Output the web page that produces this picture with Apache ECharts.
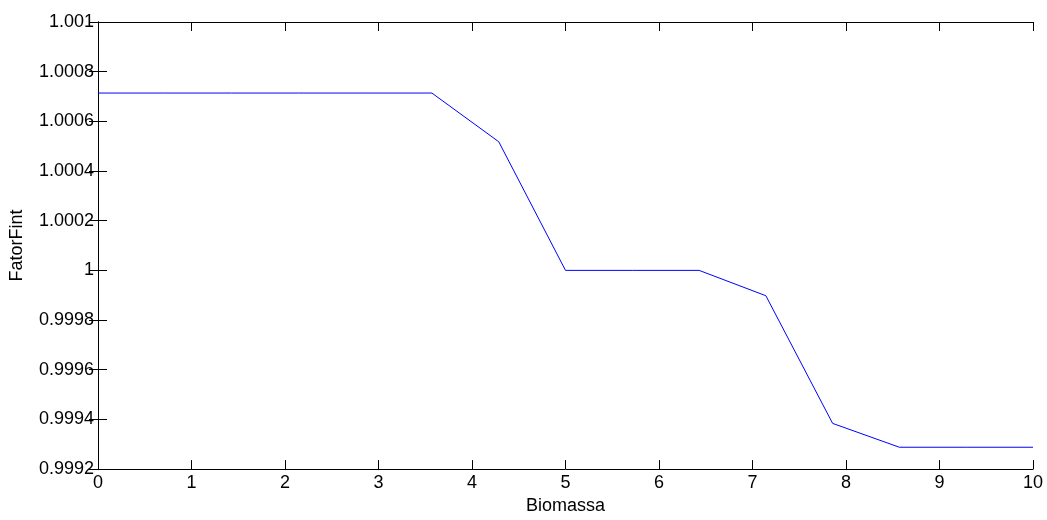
<!DOCTYPE html>
<html>
<head>
<meta charset="utf-8">
<script src="https://cdn.jsdelivr.net/npm/echarts@6/dist/echarts.min.js"></script>
<style>
  html, body { margin: 0; padding: 0; background: #fff; }
  #chart { width: 1047px; height: 520px; }
</style>
</head>
<body>
<div id="chart"></div>
<script>
// Biomassa values (x) and the corresponding FatorFint (y)
const biomassa = [0, 0.714, 1.429, 2.143, 2.857, 3.571, 4.286, 5, 5.714, 6.429, 7.143, 7.857, 8.571, 9.286, 10];
const fatorFint = [1.000714, 1.000714, 1.000714, 1.000714, 1.000714, 1.000714, 1.000518, 1.0, 1.0, 1.0, 0.999898, 0.999384, 0.999288, 0.999288, 0.999288];

const xName = 'Biomassa';
const yName = 'FatorFint';

const points = biomassa.map((x, i) => [x, fatorFint[i]]);

const font = 'Liberation Sans, Arial, sans-serif';
const fontSize = 18;

const chart = echarts.init(document.getElementById('chart'), null, { renderer: 'canvas' });

const axisLine = { show: true, lineStyle: { color: '#000', width: 1 } };
const axisTick = { show: true, inside: true, length: 9, lineStyle: { color: '#000', width: 1 } };

chart.setOption({
  backgroundColor: '#fff',
  animation: false,
  grid: { left: 96, right: 14, top: 22, bottom: 45, containLabel: false },
  xAxis: [
    {
      type: 'value', min: 0, max: 10, interval: 1, position: 'bottom',
      name: xName, nameLocation: 'middle', nameGap: 27,
      nameTextStyle: { color: '#000', fontFamily: font, fontSize: fontSize, verticalAlign: 'top' },
      axisLine: axisLine, axisTick: axisTick, splitLine: { show: false },
      axisLabel: { color: '#000', fontFamily: font, fontSize: fontSize, margin: 5 }
    },
    {
      type: 'value', min: 0, max: 10, interval: 1, position: 'top',
      axisLine: axisLine, axisTick: axisTick, splitLine: { show: false },
      axisLabel: { show: false }
    }
  ],
  yAxis: [
    {
      type: 'value', min: 0.9992, max: 1.001, interval: 0.0002, position: 'left',
      name: yName, nameLocation: 'middle', nameGap: 72, nameRotate: 90,
      nameTextStyle: { color: '#000', fontFamily: font, fontSize: fontSize },
      axisLine: axisLine, axisTick: axisTick, splitLine: { show: false },
      axisLabel: {
        color: '#000', fontFamily: font, fontSize: fontSize, margin: 4,
        formatter: v => String(parseFloat(v.toFixed(4)))
      }
    },
    {
      type: 'value', min: 0.9992, max: 1.001, interval: 0.0002, position: 'right',
      axisLine: axisLine, axisTick: axisTick, splitLine: { show: false },
      axisLabel: { show: false }
    }
  ],
  series: [
    {
      type: 'line',
      data: points,
      xAxisIndex: 0, yAxisIndex: 0,
      showSymbol: false,
      lineStyle: { color: '#0000ff', width: 1 },
      itemStyle: { color: '#0000ff' }
    }
  ]
});
</script>
</body>
</html>
